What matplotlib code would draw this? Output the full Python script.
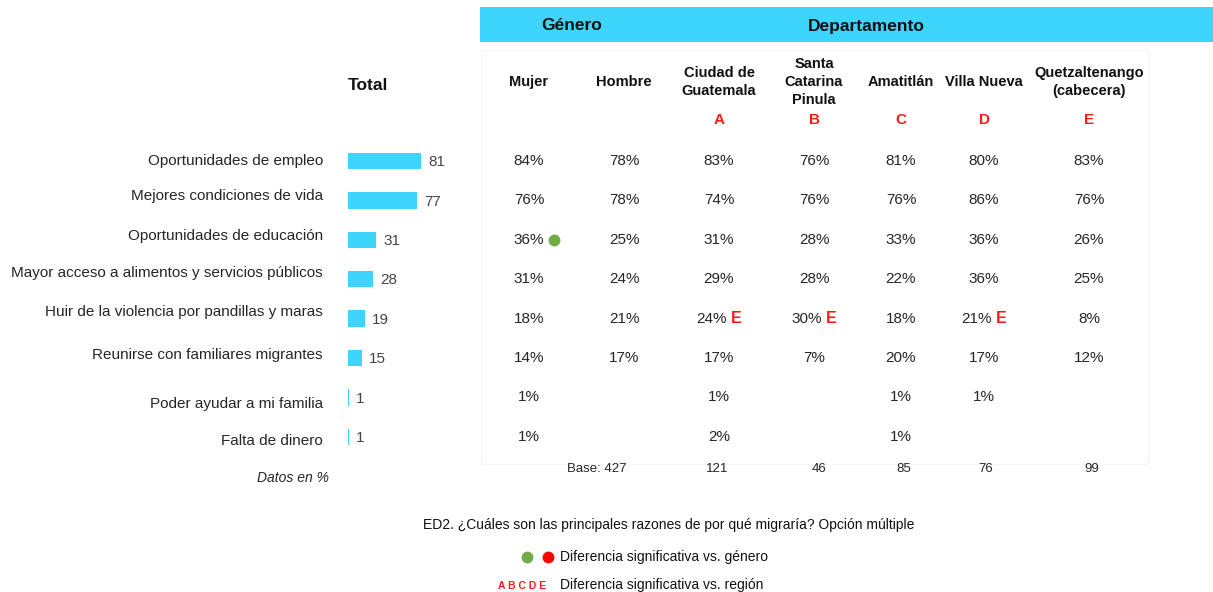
import matplotlib
matplotlib.use("Agg")
import matplotlib.pyplot as plt
from matplotlib.patches import Rectangle

plt.rcParams['font.family'] = ['Liberation Sans', 'DejaVu Sans']

categories = ["Oportunidades de empleo", "Mejores condiciones de vida",
              "Oportunidades de educación", "Mayor acceso a alimentos y servicios públicos",
              "Huir de la violencia por pandillas y maras", "Reunirse con familiares migrantes",
              "Poder ayudar a mi familia", "Falta de dinero"]
total = [81, 77, 31, 28, 19, 15, 1, 1]

columns = ["Mujer", "Hombre", "Ciudad de\nGuatemala", "Santa\nCatarina\nPinula",
           "Amatitlán", "Villa Nueva", "Quetzaltenango\n(cabecera)"]
region_letters = ["", "", "A", "B", "C", "D", "E"]
mujer = [84, 76, 36, 31, 18, 14, 1, 1]
hombre = [78, 78, 25, 24, 21, 17, None, None]
ciudad = [83, 74, 31, 29, 24, 17, 1, 2]
santa = [76, 76, 28, 28, 30, 7, None, None]
amatitlan = [81, 76, 33, 22, 18, 20, 1, 1]
villa = [80, 86, 36, 36, 21, 17, 1, None]
quetz = [83, 76, 26, 25, 8, 12, None, None]
table = [mujer, hombre, ciudad, santa, amatitlan, villa, quetz]
bases = ["Base: 427", "121", "46", "85", "76", "99"]

# significance markers: (column index, row index, marker)
sig_region = [(2, 4, "E"), (3, 4, "E"), (5, 4, "E")]
sig_gender = [(0, 2, "green")]

CYAN = "#3DD5FC"
TXT = "#262626"

W, H = 1213, 592
fig = plt.figure(figsize=(W / 100, H / 100), dpi=100)
ax = fig.add_axes([0, 0, 1, 1])
ax.set_xlim(0, W)
ax.set_ylim(H, 0)
ax.axis("off")

# header band & table frame
ax.add_patch(Rectangle((480, 7), W - 480, 35, color=CYAN, lw=0))
ax.add_patch(Rectangle((481, 50), 667, 414, fill=False, ec="#f5f5f5", lw=0.8))
ax.text(572, 26, "Género", ha="center", va="center", fontsize=12.5, fontweight="bold", color="#111111")
ax.text(866, 26, "Departamento", ha="center", va="center", fontsize=12.5, fontweight="bold", color="#111111")
ax.text(348, 86, "Total", ha="left", va="center", fontsize=12.5, fontweight="bold", color="#111111")

col_x = [529, 624, 719, 814, 901, 984, 1089]
row0, dy = 161, 39.4
label_dy = [0, -4, -4, -6, -7, -3, 7, 4]

for cx, name, let in zip(col_x, columns, region_letters):
    ax.text(cx, 82, name, ha="center", va="center", fontsize=10.5, fontweight="bold",
            color="#111111", linespacing=1.35)
    if let:
        ax.text(cx, 120, let, ha="center", va="center", fontsize=11, fontweight="bold", color="#FF1A1A")

# category labels
for i, c in enumerate(categories):
    ax.text(323, row0 + dy * i + label_dy[i], c, ha="right", va="center", fontsize=11, color=TXT)

sig_cells = {(j, i): m for j, i, m in sig_region}

# table values
for j, col in enumerate(table):
    for i, v in enumerate(col):
        if v is None:
            continue
        y = row0 + dy * i
        if (j, i) in sig_cells:
            ax.text(col_x[j] + 8, y, f"{v}%", ha="right", va="center", fontsize=11, color=TXT)
            ax.text(col_x[j] + 12, y, sig_cells[(j, i)], ha="left", va="center", fontsize=11.5,
                    fontweight="bold", color="#FF1A1A")
        else:
            ax.text(col_x[j], y, f"{v}%", ha="center", va="center", fontsize=11, color=TXT)

for j, i, m in sig_gender:
    ax.plot(col_x[j] + 25, row0 + dy * i, "o", ms=7.5, color="#70AD47", mec="#70AD47")

# bases
base_x = [597, 717, 819, 904, 986, 1092]
for bx, b in zip(base_x, bases):
    ax.text(bx, 469, b, ha="center", va="center", fontsize=9.5, color=TXT)

ax.text(293, 478, "Datos en %", ha="center", va="center", fontsize=10, style="italic", color=TXT)

# footer
ax.text(669, 525, "ED2. ¿Cuáles son las principales razones de por qué migraría? Opción múltiple",
        ha="center", va="center", fontsize=10, color="#111111")
ax.plot(527, 557, "o", ms=7.5, color="#70AD47")
ax.plot(548, 557, "o", ms=7.5, color="#FF0000")
ax.text(560, 557, "Diferencia significativa vs. género", ha="left", va="center", fontsize=10, color="#111111")
ax.text(522, 586, "A B C D E", ha="center", va="center", fontsize=7.5, fontweight="bold", color="#FF1A1A")
ax.text(560, 585, "Diferencia significativa vs. región", ha="left", va="center", fontsize=10, color="#111111")

# Total bars
scale = 0.9  # px per unit
bx0 = 348
top = row0 - dy / 2
bax = fig.add_axes([bx0 / W, 1 - (top + dy * 8) / H, 100 * scale / W, dy * 8 / H])
ypos = list(range(len(total)))
bax.barh(ypos, total, height=0.42, color=CYAN)
bax.set_xlim(0, 100)
bax.set_ylim(len(total) - 0.5, -0.5)
bax.axis("off")
for y, v in zip(ypos, total):
    bax.text(v + 8, y + 0.03, str(v), ha="left", va="center", fontsize=11, color="#444444")

fig.savefig("out.png", dpi=100, facecolor="white")
